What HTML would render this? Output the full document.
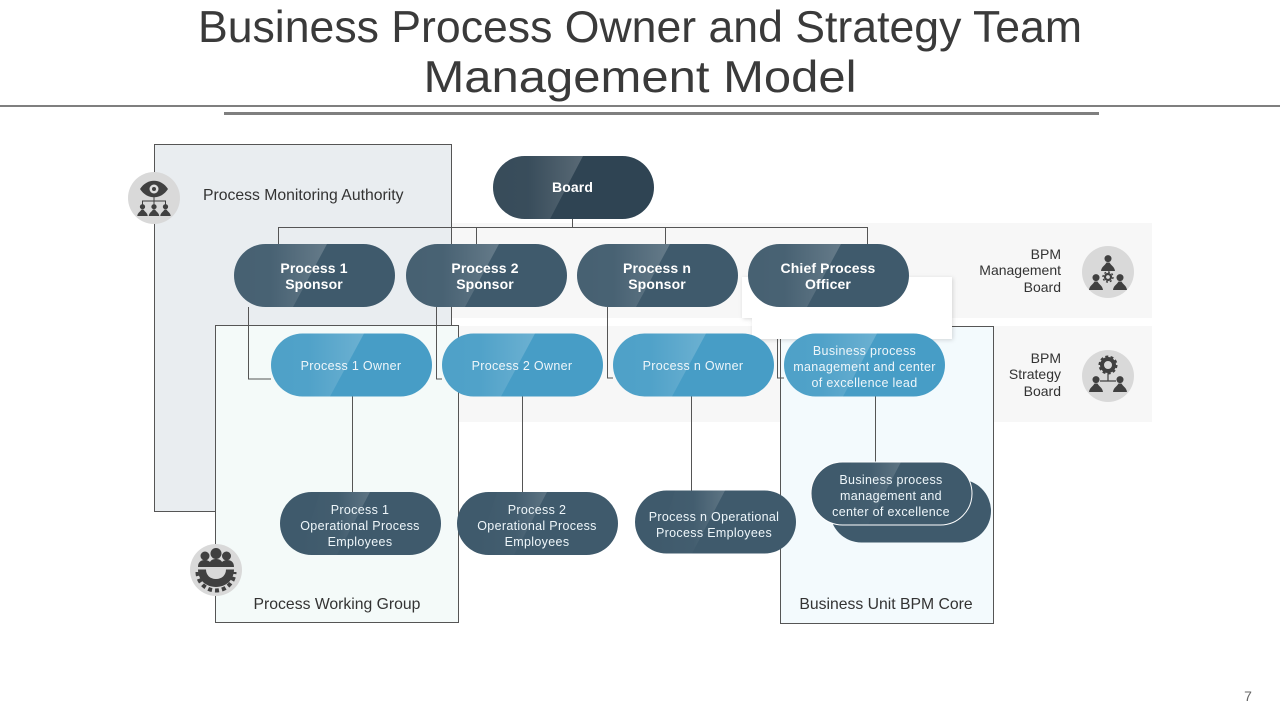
<!DOCTYPE html>
<html><head><meta charset="utf-8"><style>
html,body{margin:0;padding:0;background:#fff}
svg{display:block}
text{font-family:"Liberation Sans",Arial,sans-serif}
.t{font-size:44.6px;fill:#3a3a3a;text-anchor:middle}
.l{font-size:15.75px;fill:#333}
.b{font-size:14px;font-weight:bold;fill:#fff;text-anchor:middle;letter-spacing:.12px}
.w{font-size:12.5px;fill:#eef6fa;text-anchor:middle;letter-spacing:.33px}
.r{font-size:14px;fill:#333;text-anchor:end}
.c{fill:none;stroke:#555;stroke-width:1}
.i{fill:#404040}
</style></head><body>
<svg width="1280" height="720" viewBox="0 0 1280 720" xmlns="http://www.w3.org/2000/svg">
<defs>
<clipPath id="pc"><rect width="161" height="63" rx="31.5"/></clipPath>
<linearGradient id="gd" x1="0" y1="0" x2="1" y2="0"><stop offset="0" stop-color="#fff" stop-opacity=".04"/><stop offset=".4" stop-color="#fff" stop-opacity=".05"/><stop offset="1" stop-color="#fff" stop-opacity=".2"/></linearGradient>
<linearGradient id="ge" x1="0" y1="0" x2="1" y2="0"><stop offset="0" stop-color="#fff" stop-opacity="0"/><stop offset=".55" stop-color="#fff" stop-opacity=".02"/><stop offset="1" stop-color="#fff" stop-opacity=".16"/></linearGradient>
<symbol id="pd" width="161" height="63" overflow="visible"><rect width="161" height="63" rx="31.5" fill="#3f5a6c"/><path d="M0 0H93L59 63H0Z" fill="url(#gd)" clip-path="url(#pc)"/></symbol>
<symbol id="pb" width="161" height="63" overflow="visible"><rect width="161" height="63" rx="31.5" fill="#2f4453"/><path d="M0 0H90L57 63H0Z" fill="url(#gd)" clip-path="url(#pc)"/></symbol>
<symbol id="po" width="161" height="63" overflow="visible"><rect width="161" height="63" rx="31.5" fill="#479dc6"/><path d="M0 0H93L59 63H0Z" fill="url(#gd)" clip-path="url(#pc)"/></symbol>
<symbol id="pe" width="161" height="63" overflow="visible"><rect width="161" height="63" rx="31.5" fill="#3f5a6c"/><path d="M40 0H90L57 63H20Z" fill="url(#ge)" clip-path="url(#pc)"/></symbol>
<symbol id="man" viewBox="0 0 14 16"><circle cx="7" cy="3.600" r="3.500" class="i"/><path d="M0 16C0.500 11.500 4 10.500 5.500 7.500H8.500C10 10.500 13.500 11.500 14 16Z" class="i"/></symbol>
<filter id="sh" x="-5%" y="-10%" width="110%" height="125%"><feDropShadow dx="1" dy="1" stdDeviation="2" flood-color="#000" flood-opacity=".15"/></filter>
</defs>

<text class="t" x="640" y="42">Business Process Owner and Strategy Team</text>
<text class="t" x="640" y="92" textLength="433" lengthAdjust="spacingAndGlyphs">Management Model</text>
<rect x="0" y="105" width="1280" height="2" fill="#7f7f7f"/>
<rect x="224" y="112" width="875" height="3" fill="#7f7f7f"/>

<rect x="180" y="223" width="972" height="95" fill="#f7f7f7"/>
<rect x="180" y="326" width="972" height="96" fill="#f7f7f7"/>
<rect x="154.5" y="144.5" width="297" height="367" fill="#e9edf0" stroke="#555"/>
<rect x="215.5" y="325.5" width="243" height="297" fill="#f4faf9" stroke="#555"/>
<rect x="780.5" y="326.5" width="213" height="297" fill="#f3fafd" stroke="#555"/>
<path d="M742 277H952V339H752V318H742Z" fill="#fff" filter="url(#sh)"/>

<path class="c" d="M278.5 244V227.5H867.5V244M476.5 227.5V244M665.5 227.5V244M572.5 219V227.5"/>
<path class="c" d="M248.5 307V379H271M436.5 307V379H442M607.5 307V378H613M777.5 339V378H784M780.5 339V378"/>
<path class="c" d="M352.5 396V492M522.5 396V492M691.5 396V491M875.5 396V462"/>

<use href="#pb" x="493" y="156"/>
<use href="#pd" x="234" y="244"/><use href="#pd" x="406" y="244"/><use href="#pd" x="577" y="244"/><use href="#pd" x="748" y="244"/>
<use href="#po" x="271" y="333.5"/><use href="#po" x="442" y="333.5"/><use href="#po" x="613" y="333.5"/><use href="#po" x="784" y="333.5"/>
<use href="#pe" x="280" y="492"/><use href="#pe" x="457" y="492"/><use href="#pe" x="635" y="490.5"/>
<rect x="830" y="479.5" width="161" height="63" rx="31.5" fill="#3f5a6c"/>
<use href="#pe" x="811" y="462"/>
<rect x="811" y="462" width="161" height="63" rx="31.5" fill="none" stroke="#fff" stroke-width="1"/>

<text class="b" x="572.5" y="192">Board</text>
<text class="b" x="314" y="273">Process 1</text><text class="b" x="314" y="289">Sponsor</text>
<text class="b" x="485" y="273">Process 2</text><text class="b" x="485" y="289">Sponsor</text>
<text class="b" x="657" y="273">Process n</text><text class="b" x="657" y="289">Sponsor</text>
<text class="b" x="828" y="273">Chief Process</text><text class="b" x="828" y="289">Officer</text>

<text class="w" x="351" y="370">Process 1 Owner</text>
<text class="w" x="522" y="370">Process 2 Owner</text>
<text class="w" x="693" y="370">Process n Owner</text>
<text class="w" x="864.5" y="355">Business process</text>
<text class="w" x="864.5" y="371">management  and center</text>
<text class="w" x="864.5" y="387">of excellence lead</text>

<text class="w" x="360" y="514">Process 1</text><text class="w" x="360" y="530">Operational Process</text><text class="w" x="360" y="546">Employees</text>
<text class="w" x="537" y="514">Process 2</text><text class="w" x="537" y="530">Operational Process</text><text class="w" x="537" y="546">Employees</text>
<text class="w" x="714" y="521">Process n Operational</text><text class="w" x="714" y="537">Process Employees</text>
<text class="w" x="891" y="484">Business process</text><text class="w" x="891" y="500">management  and</text><text class="w" x="891" y="516">center of excellence</text>

<text class="l" x="203" y="200">Process Monitoring Authority</text>
<text class="l" x="337" y="609" text-anchor="middle">Process Working Group</text>
<text class="l" x="886" y="609" text-anchor="middle">Business Unit BPM Core</text>
<text class="r" x="1061" y="259">BPM</text><text class="r" x="1061" y="275">Management</text><text class="r" x="1061" y="292">Board</text>
<text class="r" x="1061" y="363">BPM</text><text class="r" x="1061" y="379">Strategy</text><text class="r" x="1061" y="396">Board</text>
<text x="1248" y="701" text-anchor="middle" style="font-size:14px;fill:#666">7</text>

<!-- icon 1: eye and tree -->
<circle cx="154" cy="198" r="26" fill="#d9d9d9"/>
<path class="i" d="M140 189C147 178 161 178 168 189C161 200 147 200 140 189Z"/>
<circle cx="154" cy="189" r="4.500" fill="#ddd"/><circle cx="154" cy="189" r="2" class="i"/>
<path d="M154 197V201M142.500 205V201H165.500V205M154 201V205" fill="none" stroke="#404040" stroke-width="1"/>
<use href="#man" x="137" y="204" width="11" height="12"/>
<use href="#man" x="148.500" y="204" width="11" height="12"/>
<use href="#man" x="160" y="204" width="11" height="12"/>

<!-- icon 2: management -->
<circle cx="1108" cy="272" r="26" fill="#d9d9d9"/>
<use href="#man" x="1101" y="255" width="14" height="16"/>
<use href="#man" x="1089" y="274" width="14" height="16"/>
<use href="#man" x="1113" y="274" width="14" height="16"/>
<circle cx="1108" cy="277" r="3" fill="none" stroke="#404040" stroke-width="2.200"/>
<circle cx="1108" cy="277" r="5" fill="none" stroke="#404040" stroke-width="1.400" stroke-dasharray="2 1.900"/>

<!-- icon 3: strategy -->
<circle cx="1108" cy="376" r="26" fill="#d9d9d9"/>
<circle cx="1108" cy="365" r="6" fill="none" stroke="#404040" stroke-width="4"/>
<circle cx="1108" cy="365" r="8.500" fill="none" stroke="#404040" stroke-width="2" stroke-dasharray="3 2.300"/>
<path d="M1108 373V381M1100 381H1116" stroke="#404040" stroke-width="1.200" fill="none"/>
<use href="#man" x="1089" y="376" width="14" height="16"/>
<use href="#man" x="1113" y="376" width="14" height="16"/>

<!-- icon 4: working group -->
<circle cx="216" cy="570" r="26" fill="#d9d9d9"/>
<path class="i" d="M198 567C198 562 201 560 205 560C207 560 209 561 210 562C211 560 213 559 216 559C219 559 221 560 222 562C223 561 225 560 227 560C231 560 234 562 234 567Z"/>
<circle cx="205" cy="556" r="4.500" class="i"/><circle cx="226.500" cy="556" r="4.500" class="i"/><circle cx="216" cy="553.500" r="5.500" class="i"/>
<path class="i" d="M198 569.500H234C234 580 226 587 216 587C206 587 198 580 198 569.500ZM206 569.500C206 575 210 579 216 579C222 579 226 575 226 569.500Z"/>
<path d="M197.500 572A18.500 18.500 0 0 0 234.500 572" fill="none" stroke="#404040" stroke-width="4" stroke-dasharray="4 3"/>
</svg>
</body></html>
